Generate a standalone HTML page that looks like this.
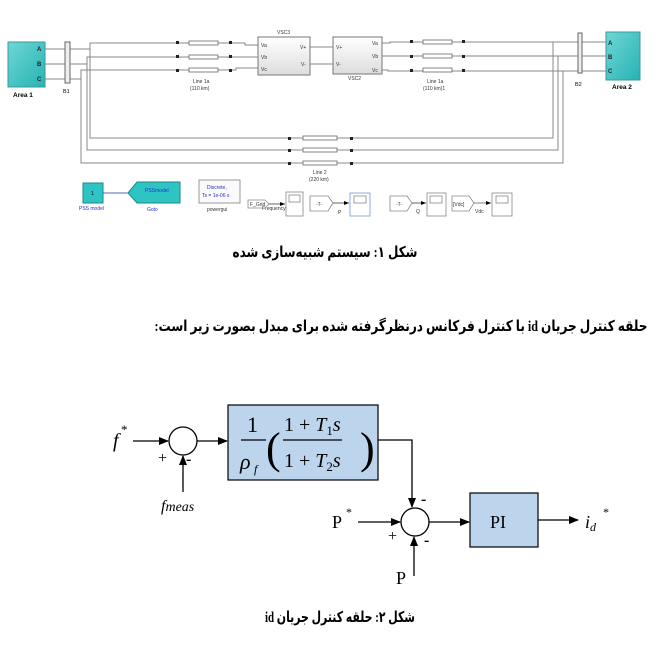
<!DOCTYPE html>
<html><head><meta charset="utf-8">
<style>
html,body{margin:0;padding:0;background:#fff;width:672px;height:669px;overflow:hidden}
svg{position:absolute;left:0;top:0}
.fa{font-family:"Liberation Serif","DejaVu Sans",sans-serif}
</style></head><body>
<svg width="672" height="669" viewBox="0 0 672 669" xmlns="http://www.w3.org/2000/svg">
<defs>
<linearGradient id="tq" x1="0" y1="0" x2="1" y2="1"><stop offset="0" stop-color="#6fd6d6"/><stop offset="1" stop-color="#26b3b3"/></linearGradient>
<linearGradient id="gr" x1="0" y1="0" x2="0" y2="1"><stop offset="0" stop-color="#fff"/><stop offset="1" stop-color="#ddd"/></linearGradient>
<marker id="ar" markerWidth="10" markerHeight="8" refX="9" refY="4" orient="auto" markerUnits="userSpaceOnUse"><path d="M0,0 L10,4 L0,8 z" fill="#000"/></marker>
<marker id="as" markerWidth="5" markerHeight="4" refX="5" refY="2" orient="auto" markerUnits="userSpaceOnUse"><path d="M0,0 L5,2 L0,4 z" fill="#000"/></marker>
</defs>
<g stroke="#888" stroke-width="1" fill="none">
<line x1="45" y1="49" x2="65" y2="49"/><line x1="45" y1="64" x2="65" y2="64"/><line x1="45" y1="79" x2="65" y2="79"/>
<polyline points="70,49 90,49 90,43 176,43"/><polyline points="70,64 87,64 87,57 176,57"/><polyline points="70,79 81,79 81,70 176,70"/>
<line x1="176" y1="43" x2="232" y2="43"/><line x1="176" y1="57" x2="232" y2="57"/><line x1="176" y1="70" x2="232" y2="70"/>
<polyline points="232,43 245,43 245,45 258,45"/><line x1="232" y1="57" x2="258" y2="57"/><polyline points="232,70 236,70 236,68 258,68"/>
<line x1="310" y1="47" x2="333" y2="47"/><line x1="310" y1="64" x2="333" y2="64"/>
<polyline points="382,43 390,43 390,42 465,42"/><polyline points="382,56 465,56"/><polyline points="382,70 388,70 388,71 465,71"/>
<line x1="465" y1="42" x2="578" y2="42"/><line x1="465" y1="56" x2="578" y2="56"/><line x1="465" y1="71" x2="578" y2="71"/>
<line x1="582" y1="42" x2="606" y2="42"/><line x1="582" y1="56" x2="606" y2="56"/><line x1="582" y1="71" x2="606" y2="71"/>
<polyline points="90,43 90,138 553,138 553,42"/><polyline points="87,57 87,150 558,150 558,56"/><polyline points="81,70 81,163 563,163 563,71"/>
</g>
<g fill="#fff" stroke="#666" stroke-width="0.8">
<rect x="189" y="41" width="29" height="4"/><rect x="189" y="55" width="29" height="4"/><rect x="189" y="68" width="29" height="4"/>
<rect x="423" y="40" width="29" height="4"/><rect x="423" y="54" width="29" height="4"/><rect x="423" y="68" width="29" height="4"/>
<rect x="303" y="136" width="34" height="4"/><rect x="303" y="148" width="34" height="4"/><rect x="303" y="161" width="34" height="4"/>
</g>
<g fill="#222">
<rect x="176" y="41" width="3" height="3"/><rect x="176" y="55" width="3" height="3"/><rect x="176" y="69" width="3" height="3"/>
<rect x="229" y="41" width="3" height="3"/><rect x="229" y="55" width="3" height="3"/><rect x="229" y="69" width="3" height="3"/>
<rect x="410" y="40" width="3" height="3"/><rect x="410" y="55" width="3" height="3"/><rect x="410" y="69" width="3" height="3"/>
<rect x="462" y="40" width="3" height="3"/><rect x="462" y="55" width="3" height="3"/><rect x="462" y="69" width="3" height="3"/>
<rect x="288" y="137" width="3" height="3"/><rect x="288" y="149" width="3" height="3"/><rect x="288" y="162" width="3" height="3"/>
<rect x="350" y="137" width="3" height="3"/><rect x="350" y="149" width="3" height="3"/><rect x="350" y="162" width="3" height="3"/>
</g>
<rect x="8" y="42" width="37" height="45" fill="url(#tq)" stroke="#3a9a9a"/>
<rect x="606" y="32" width="34" height="48" fill="url(#tq)" stroke="#3a9a9a"/>
<g font-family="Liberation Sans,sans-serif" font-size="6" font-weight="bold" fill="#222"><text x="37" y="51">A</text><text x="37" y="66">B</text><text x="37" y="81">C</text>
<text x="608" y="45">A</text><text x="608" y="59">B</text><text x="608" y="73">C</text></g>
<text x="13" y="97" font-family="Liberation Sans,sans-serif" font-size="6.5" font-weight="bold">Area 1</text>
<text x="612" y="89" font-family="Liberation Sans,sans-serif" font-size="6.5" font-weight="bold">Area 2</text>
<rect x="65" y="42" width="5" height="41" fill="#eee" stroke="#666"/><text x="63" y="93" font-family="Liberation Sans,sans-serif" font-size="5.5">B1</text>
<rect x="578" y="33" width="4" height="40" fill="#eee" stroke="#666"/><text x="575" y="86" font-family="Liberation Sans,sans-serif" font-size="5.5">B2</text>
<rect x="258" y="37" width="52" height="38" fill="url(#gr)" stroke="#777"/>
<rect x="333" y="37" width="49" height="37" fill="url(#gr)" stroke="#777"/>
<g font-family="Liberation Sans,sans-serif" font-size="5" fill="#333">
<text x="277" y="34">VSC3</text><text x="348" y="80">VSC2</text>
<text x="261" y="47">Va</text><text x="261" y="59">Vb</text><text x="261" y="71">Vc</text><text x="300" y="49">V+</text><text x="301" y="66">V-</text>
<text x="336" y="49">V+</text><text x="336" y="66">V-</text><text x="372" y="45">Va</text><text x="372" y="58">Vb</text><text x="372" y="72">Vc</text>
<text x="193" y="83">Line 1a</text><text x="190" y="90">(110 km)</text>
<text x="427" y="83">Line 1a</text><text x="423" y="90">(110 km)1</text>
<text x="313" y="174">Line 2</text><text x="309" y="181">(220 km)</text>
</g>
<rect x="83" y="183" width="20" height="20" fill="#2ec4c4" stroke="#1a8a8a"/>
<text x="91" y="195" font-family="Liberation Sans,sans-serif" font-size="5">1</text>
<line x1="103" y1="193" x2="128" y2="193" stroke="#2233aa" stroke-width="0.8"/>
<path d="M128,193 L137,182 L180,182 L180,203 L137,203 z" fill="#2ec4c4" stroke="#1a8a8a"/>
<rect x="199" y="180" width="41" height="23" fill="#fafafa" stroke="#999"/>
<g font-family="Liberation Sans,sans-serif" font-size="5" fill="#2233cc"><text x="145" y="192">PSSmodel</text><text x="79" y="210">PSS model</text><text x="147" y="211">Goto</text>
<text x="207" y="189">Discrete,</text><text x="202" y="197">Ts = 1e-06 s</text></g>
<g font-family="Liberation Sans,sans-serif" font-size="5" fill="#333"><text x="207" y="211">powergui</text>
<text x="250" y="206">F_Grid</text><text x="262" y="210">Frequency</text><text x="316" y="206">-T-</text><text x="338" y="214">P</text>
<text x="396" y="206">-T-</text><text x="416" y="213">Q</text><text x="453" y="206">[Vdc]</text><text x="475" y="213">Vdc</text></g>
<g fill="#fff" fill-opacity="0" stroke="#888" stroke-width="0.8">
<path d="M248,200 L265,200 L269,204 L265,208 L248,208 z"/>
<path d="M310,196 L328,196 L333,203 L328,211 L310,211 z"/>
<path d="M390,196 L407,196 L412,203 L407,211 L390,211 z"/>
<path d="M452,196 L469,196 L474,203 L469,211 L452,211 z"/>
</g>
<g fill="#fff" stroke="#888" stroke-width="0.8">
<rect x="286" y="192" width="17" height="24"/><rect x="350" y="193" width="20" height="23" stroke="#7799cc"/><rect x="427" y="193" width="19" height="23"/><rect x="492" y="193" width="20" height="23"/>
<rect x="289" y="195" width="11" height="7"/><rect x="354" y="196" width="12" height="7"/><rect x="430" y="196" width="12" height="7"/><rect x="496" y="196" width="12" height="7"/>
</g>
<g stroke="#000" stroke-width="0.6"><line x1="269" y1="204" x2="285" y2="204" marker-end="url(#as)"/><line x1="333" y1="203" x2="349" y2="203" marker-end="url(#as)"/><line x1="412" y1="203" x2="426" y2="203" marker-end="url(#as)"/><line x1="474" y1="203" x2="491" y2="203" marker-end="url(#as)"/></g>
<text x="325" y="257" text-anchor="middle" class="fa" font-size="15" font-weight="bold" direction="rtl" textLength="185" lengthAdjust="spacingAndGlyphs">شکل ۱: سیستم شبیه‌سازی شده</text>
<text x="401" y="331" text-anchor="middle" class="fa" font-size="15" font-weight="bold" direction="rtl" textLength="493" lengthAdjust="spacingAndGlyphs">حلقه کنترل جریان id با کنترل فرکانس درنظرگرفته شده برای مبدل بصورت زیر است:</text>
<text x="340" y="622" text-anchor="middle" class="fa" font-size="15" font-weight="bold" direction="rtl" textLength="150" lengthAdjust="spacingAndGlyphs">شکل ۲: حلقه کنترل جریان id</text>
<g stroke="#000" stroke-width="1.3" fill="none">
<circle cx="183" cy="441" r="14"/><circle cx="415" cy="522" r="14"/>
<line x1="133" y1="441" x2="168" y2="441" marker-end="url(#ar)"/>
<line x1="183" y1="492" x2="183" y2="456" marker-end="url(#ar)"/>
<line x1="197" y1="441" x2="227" y2="441" marker-end="url(#ar)"/>
<polyline points="378,440 412,440 412,507" marker-end="url(#ar)"/>
<line x1="358" y1="522" x2="400" y2="522" marker-end="url(#ar)"/>
<line x1="414" y1="576" x2="414" y2="537" marker-end="url(#ar)"/>
<line x1="429" y1="522" x2="469" y2="522" marker-end="url(#ar)"/>
<line x1="538" y1="520" x2="578" y2="520" marker-end="url(#ar)"/>
</g>
<rect x="228" y="405" width="150" height="75" fill="#bdd5ec" stroke="#000" stroke-width="1.2"/>
<rect x="470" y="493" width="68" height="54" fill="#bdd5ec" stroke="#000" stroke-width="1.2"/>
<g font-family="Liberation Serif,serif" fill="#000">
<text x="113" y="447" font-size="20" font-style="italic">f</text><text x="121" y="434" font-size="13">*</text>
<text x="158" y="463" font-size="16">+</text><text x="186" y="464" font-size="16" font-weight="bold">-</text>
<text x="161" y="511" font-size="16" font-style="italic">f<tspan font-size="14">meas</tspan></text>
<text x="247" y="432" font-size="22">1</text><line x1="241" y1="440" x2="266" y2="440" stroke="#000" stroke-width="1.2"/>
<text x="240" y="469" font-size="22" font-style="italic">ρ</text><text x="254" y="473" font-size="12" font-style="italic">f</text>
<text x="266" y="463" font-size="44">(</text>
<text x="360" y="463" font-size="44">)</text>
<text x="284" y="431" font-size="20">1 + <tspan font-style="italic">T</tspan><tspan font-size="13" dy="4">1</tspan><tspan dy="-4" font-style="italic">s</tspan></text>
<line x1="283" y1="440" x2="342" y2="440" stroke="#000" stroke-width="1.2"/>
<text x="284" y="467" font-size="20">1 + <tspan font-style="italic">T</tspan><tspan font-size="13" dy="4">2</tspan><tspan dy="-4" font-style="italic">s</tspan></text>
<text x="332" y="528" font-size="18">P</text><text x="346" y="516" font-size="12">*</text>
<text x="388" y="541" font-size="16">+</text><text x="421" y="504" font-size="16" font-weight="bold">-</text><text x="424" y="545" font-size="16" font-weight="bold">-</text>
<text x="396" y="584" font-size="18">P</text>
<text x="490" y="528" font-size="18">PI</text>
<text x="585" y="528" font-size="18" font-style="italic">i<tspan font-size="12" dy="3">d</tspan></text><text x="603" y="516" font-size="12">*</text>
</g>
</svg>
</body></html>
